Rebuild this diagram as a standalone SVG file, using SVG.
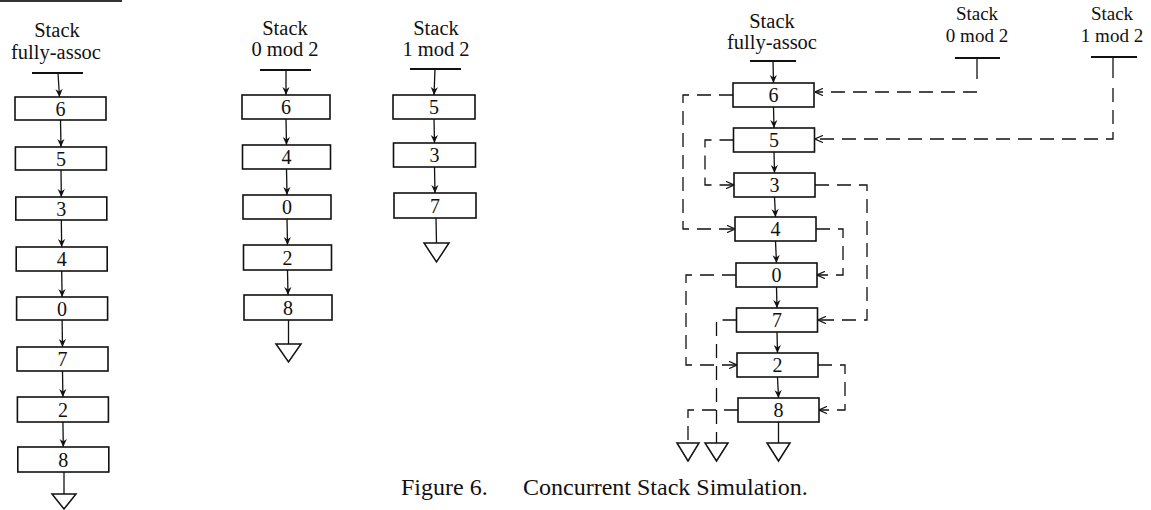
<svg xmlns="http://www.w3.org/2000/svg" width="1151" height="510" viewBox="0 0 1151 510">
<style>
text{font-family:"Liberation Serif","Times New Roman",serif;fill:#111;text-anchor:middle}
.hd{font-size:20.5px}
.hs{font-size:19px}
.num{font-size:20px}
.cap{font-size:24px}
.box{fill:#fff;stroke:#111;stroke-width:1.6}
.ln{stroke:#111;stroke-width:1.3;fill:none}
.top{stroke:#111;stroke-width:1.8;fill:none}
.dash{stroke:#111;stroke-width:1.3;fill:none;stroke-dasharray:14 8}
.tri{fill:#fff;stroke:#111;stroke-width:1.5}
</style>
<defs>
<marker id="ah" viewBox="0 0 10 10" refX="10" refY="5" markerWidth="8" markerHeight="8" markerUnits="userSpaceOnUse" orient="auto">
<path d="M0,0.5 L10,5 L0,9.5 L3,5 Z" fill="#111"/>
</marker>
<marker id="oh" viewBox="0 0 10 10" refX="10" refY="5" markerWidth="8" markerHeight="8" markerUnits="userSpaceOnUse" orient="auto">
<path d="M0,0.5 L10,5 L0,9.5" fill="none" stroke="#111" stroke-width="1.6"/>
</marker>
</defs>
<rect width="1151" height="510" fill="#fff"/>
<line x1="0" y1="1" x2="122" y2="1" stroke="#333" stroke-width="2"/>

<!-- Left stack: fully-assoc -->
<g id="left-header">
<text class="hd" x="57" y="37">Stack</text>
<text class="hd" x="56" y="59">fully-assoc</text>
<line class="top" x1="32" y1="73" x2="83" y2="73"/>
</g>
<g id="L6"><rect class="box" x="15" y="97" width="91" height="23"/><text class="num" x="60.5" y="115.5">6</text></g>
<g id="L5"><rect class="box" x="15.4" y="147" width="91" height="23"/><text class="num" x="61" y="165.5">5</text></g>
<g id="L3"><rect class="box" x="15.8" y="197" width="91" height="23"/><text class="num" x="61.3" y="215.5">3</text></g>
<g id="L4"><rect class="box" x="16.2" y="247" width="91" height="24"/><text class="num" x="61.7" y="266">4</text></g>
<g id="L0"><rect class="box" x="16.6" y="297" width="91" height="23"/><text class="num" x="62.1" y="315.5">0</text></g>
<g id="L7"><rect class="box" x="17" y="347" width="91" height="24"/><text class="num" x="62.5" y="366">7</text></g>
<g id="L2"><rect class="box" x="17.4" y="397" width="91" height="25"/><text class="num" x="62.9" y="416.5">2</text></g>
<g id="L8"><rect class="box" x="17.8" y="447" width="91" height="25"/><text class="num" x="63.3" y="466.5">8</text></g>
<g id="Lend"><polygon class="tri" points="52,494 76,494 64,509"/></g>

<!-- Middle stack: 0 mod 2 -->
<g id="m0-header">
<text class="hd" x="285" y="35">Stack</text>
<text class="hd" x="285" y="56">0 mod 2</text>
<line class="top" x1="260" y1="70" x2="311" y2="70"/>
</g>
<g id="M6"><rect class="box" x="242" y="95" width="88" height="24"/><text class="num" x="286" y="114">6</text></g>
<g id="M4"><rect class="box" x="242.5" y="145" width="88" height="24"/><text class="num" x="286.5" y="164">4</text></g>
<g id="M0"><rect class="box" x="243" y="195" width="88" height="24"/><text class="num" x="287" y="214">0</text></g>
<g id="M2"><rect class="box" x="243.5" y="245" width="88" height="25"/><text class="num" x="287.5" y="264.5">2</text></g>
<g id="M8"><rect class="box" x="244" y="295" width="88" height="25"/><text class="num" x="288" y="314.5">8</text></g>
<g id="Mend"><polygon class="tri" points="276,344 301,344 288.5,362"/></g>

<!-- Middle stack: 1 mod 2 -->
<g id="m1-header">
<text class="hd" x="436" y="35">Stack</text>
<text class="hd" x="436" y="56">1 mod 2</text>
<line class="top" x1="410" y1="69" x2="461" y2="69"/>
</g>
<g id="N5"><rect class="box" x="393" y="95" width="82" height="24"/><text class="num" x="434" y="114">5</text></g>
<g id="N3"><rect class="box" x="393.5" y="143" width="82" height="24"/><text class="num" x="434.5" y="162">3</text></g>
<g id="N7"><rect class="box" x="394" y="193" width="82" height="25"/><text class="num" x="435" y="212.5">7</text></g>
<g id="Nend"><polygon class="tri" points="424,243 449,243 436.5,262"/></g>

<!-- Right: concurrent simulation -->
<g id="r-header">
<text class="hd" x="772" y="28">Stack</text>
<text class="hd" x="772" y="49">fully-assoc</text>
<line class="top" x1="750" y1="61" x2="796" y2="61"/>
</g>
<g id="r0-header">
<text class="hs" x="977" y="20">Stack</text>
<text class="hs" x="977" y="42">0 mod 2</text>
<line class="top" x1="955" y1="58" x2="1000" y2="58"/>
</g>
<g id="r1-header">
<text class="hs" x="1112" y="20">Stack</text>
<text class="hs" x="1112" y="42">1 mod 2</text>
<line class="top" x1="1091" y1="57" x2="1137" y2="57"/>
</g>
<g id="R6"><rect class="box" x="733" y="83" width="81" height="24"/><text class="num" x="773.5" y="102">6</text></g>
<g id="R5"><rect class="box" x="733.5" y="128" width="81" height="24"/><text class="num" x="774" y="147">5</text></g>
<g id="R3"><rect class="box" x="734" y="173" width="81" height="24"/><text class="num" x="774.5" y="192">3</text></g>
<g id="R4"><rect class="box" x="735" y="217" width="81" height="24"/><text class="num" x="775.5" y="236">4</text></g>
<g id="R0"><rect class="box" x="736" y="263" width="81" height="24"/><text class="num" x="776.5" y="282">0</text></g>
<g id="R7"><rect class="box" x="736.5" y="308" width="81" height="24"/><text class="num" x="777" y="327">7</text></g>
<g id="R2"><rect class="box" x="737" y="353" width="81" height="24"/><text class="num" x="777.5" y="372">2</text></g>
<g id="R8"><rect class="box" x="738" y="398" width="81" height="24"/><text class="num" x="778.5" y="417">8</text></g>
<g id="Rend"><polygon class="tri" points="767,443 790,443 778.5,461"/></g>
<g id="Rend1"><polygon class="tri" points="677,443 699,443 688,461"/></g>
<g id="Rend2"><polygon class="tri" points="705,443 728,443 716.5,461"/></g>

<g id="connectors">
<!-- left stack -->
<line class="ln" x1="58" y1="73" x2="59.5" y2="97" marker-end="url(#ah)"/>
<line class="ln" x1="60.5" y1="120" x2="61" y2="147" marker-end="url(#ah)"/>
<line class="ln" x1="61" y1="170" x2="61.3" y2="197" marker-end="url(#ah)"/>
<line class="ln" x1="61.3" y1="220" x2="61.7" y2="247" marker-end="url(#ah)"/>
<line class="ln" x1="61.7" y1="271" x2="62.1" y2="297" marker-end="url(#ah)"/>
<line class="ln" x1="62.1" y1="320" x2="62.5" y2="347" marker-end="url(#ah)"/>
<line class="ln" x1="62.5" y1="371" x2="62.9" y2="397" marker-end="url(#ah)"/>
<line class="ln" x1="62.9" y1="422" x2="63.3" y2="447" marker-end="url(#ah)"/>
<line class="ln" x1="64" y1="472" x2="64" y2="494"/>
<!-- 0 mod 2 -->
<line class="ln" x1="286" y1="70" x2="286" y2="95" marker-end="url(#ah)"/>
<line class="ln" x1="286" y1="119" x2="286.5" y2="145" marker-end="url(#ah)"/>
<line class="ln" x1="286.5" y1="169" x2="287" y2="195" marker-end="url(#ah)"/>
<line class="ln" x1="287" y1="219" x2="287.5" y2="245" marker-end="url(#ah)"/>
<line class="ln" x1="287.5" y1="270" x2="288" y2="295" marker-end="url(#ah)"/>
<line class="ln" x1="288.5" y1="320" x2="288.5" y2="344"/>
<!-- 1 mod 2 -->
<line class="ln" x1="435" y1="69" x2="434" y2="95" marker-end="url(#ah)"/>
<line class="ln" x1="434" y1="119" x2="434.5" y2="143" marker-end="url(#ah)"/>
<line class="ln" x1="434.5" y1="167" x2="435" y2="193" marker-end="url(#ah)"/>
<line class="ln" x1="436" y1="218" x2="436.5" y2="243"/>
<!-- right main stack -->
<line class="ln" x1="773" y1="61" x2="773.5" y2="83" marker-end="url(#ah)"/>
<line class="ln" x1="773.5" y1="107" x2="774" y2="128" marker-end="url(#ah)"/>
<line class="ln" x1="774" y1="152" x2="774.5" y2="173" marker-end="url(#ah)"/>
<line class="ln" x1="774.5" y1="197" x2="775.5" y2="217" marker-end="url(#ah)"/>
<line class="ln" x1="775.5" y1="241" x2="776.5" y2="263" marker-end="url(#ah)"/>
<line class="ln" x1="776.5" y1="287" x2="777" y2="308" marker-end="url(#ah)"/>
<line class="ln" x1="777" y1="332" x2="777.5" y2="353" marker-end="url(#ah)"/>
<line class="ln" x1="777.5" y1="377" x2="778.5" y2="398" marker-end="url(#ah)"/>
<line class="ln" x1="778.5" y1="422" x2="778.5" y2="443"/>
<!-- sub-stack feeds -->
<line class="ln" x1="977" y1="58" x2="977" y2="79"/>
<path class="dash" d="M977,92 H815" marker-end="url(#oh)"/>
<line class="ln" x1="1113" y1="57" x2="1113" y2="78"/>
<path class="dash" d="M1113,88 V139 H815" marker-end="url(#oh)"/>
<!-- dashed links -->
<path class="dash" d="M733,95 H683 V229 H735" marker-end="url(#oh)"/>
<path class="dash" d="M733.5,140 H705 V185 H734" marker-end="url(#oh)"/>
<path class="dash" d="M815,185 H867 V320 H818" marker-end="url(#oh)"/>
<path class="dash" d="M816,229 H843 V275 H817" marker-end="url(#oh)"/>
<path class="dash" d="M736,275 H686 V365 H737" marker-end="url(#oh)"/>
<path class="dash" d="M736.5,320 H716.5 V443"/>
<path class="dash" d="M818,365 H845 V410 H819" marker-end="url(#oh)"/>
<path class="dash" d="M738,410 H688 V443"/>
</g>

<g id="caption">
<text class="cap" style="text-anchor:start"><tspan x="401" y="495">Figure 6.</tspan><tspan x="523" y="495">Concurrent Stack Simulation.</tspan></text>
</g>
</svg>
